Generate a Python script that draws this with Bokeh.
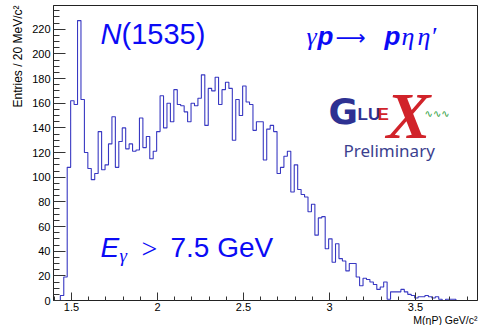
import numpy as np
from bokeh.plotting import figure
from bokeh.models import Range1d, FixedTicker, Label, Title
from bokeh.embed import file_html
from bokeh.resources import INLINE

# ---- data -------------------------------------------------------------
bin_start = 1.435      # GeV, lower edge of first bin
bin_width = 0.02       # GeV (20 MeV)
counts = [
    4, 19, 108, 162, 159, 227, 163, 120, 107, 98,
    103, 137, 106, 110, 127, 149, 108, 129, 140, 123,
    127, 121, 122, 148, 124, 133, 115, 121, 137, 166,
    140, 160, 145, 171, 159, 158, 153, 145, 160, 158,
    164, 183, 142, 172, 170, 181, 159, 171, 177, 172,
    130, 163, 150, 174, 161, 159, 138, 145, 145, 114,
    139, 142, 137, 103, 108, 117, 121, 88, 110, 90,
    86, 84, 72, 78, 53, 67, 68, 42, 50, 31,
    46, 34, 32, 24, 30, 30, 19, 12, 18, 17,
    15, 13, 9, 11, 15, 1, 7, 7, 7, 9,
    7, 5, 4, 2, 3, 3, 4, 3, 2, 3,
    1, 0, 1, 1, 1,
]
x_major = [1.5, 2.0, 2.5, 3.0, 3.5]
x_major_labels = ["1.5", "2", "2.5", "3", "3.5"]
x_minor = [round(1.4 + 0.1 * i, 2) for i in range(25)]
y_major = list(range(0, 221, 20))
y_minor = list(range(0, 240, 5))
x_title = "M(\u03b7P) GeV/c\u00b2"
y_title = "Entries / 20 MeV/c\u00b2"

# ---- figure -------------------------------------------------------------
FL, FB = 53, 300   # frame left / bottom in picture pixels
p = figure(width=478, height=325,
           x_range=Range1d(1.3953, 3.8605), y_range=Range1d(0, 239.25),
           output_backend="svg", toolbar_location=None,
           min_border_left=FL, min_border_right=1,
           min_border_top=5, min_border_bottom=25)
p.grid.visible = False
p.outline_line_color = "#222222"
p.outline_line_width = 1
p.background_fill_color = "white"
p.border_fill_color = "white"

edges = bin_start + bin_width * np.arange(len(counts) + 1)
xs = np.concatenate([[edges[0]], edges])
ys = np.concatenate([[0], counts, [0]])
p.step(x=xs, y=ys, mode="after", line_color="#3838c2", line_width=1.1)

FONT = "Liberation Sans"
for ax in (p.xaxis[0], p.yaxis[0]):
    ax.axis_line_color = "#222222"
    ax.major_tick_line_color = "#333333"
    ax.minor_tick_line_color = "#333333"
    ax.major_tick_out = 0
    ax.minor_tick_out = 0
    ax.major_label_text_font = FONT
    ax.major_label_text_font_size = "11px"
    ax.major_label_text_color = "black"
    ax.major_label_standoff = 3

p.xaxis.ticker = FixedTicker(ticks=x_major, minor_ticks=x_minor)
p.xaxis.major_label_overrides = {v: s for v, s in zip(x_major, x_major_labels)}
p.xaxis.major_tick_in = 8
p.xaxis.minor_tick_in = 4
p.xaxis.major_label_standoff = 2

p.yaxis.ticker = FixedTicker(ticks=y_major, minor_ticks=y_minor)
p.yaxis.major_tick_in = 12
p.yaxis.minor_tick_in = 6

# axis titles, right-aligned at the axis ends (ROOT style)
p.add_layout(Title(text=y_title, align="right", text_font=FONT,
                   text_font_size="12px", text_font_style="normal",
                   text_color="black", standoff=10), "left")
p.add_layout(Title(text=x_title, align="right", text_font=FONT,
                   text_font_size="10.5px", text_font_style="normal",
                   text_color="black", standoff=-4), "below")

# half of (ascent + descent) minus descent, per font, to place baselines
MID = {"Liberation Sans": 0.3465, "Liberation Serif": 0.3375,
       "DejaVu Sans": 0.346, "Noto Sans": 0.388}


def lab(text, x, y, size, color="black", font=FONT, style="normal"):
    # x, y: picture pixel position of the text start / baseline
    ymid = y - MID[font] * size
    p.add_layout(Label(x=x - FL, y=FB - ymid, x_units="screen", y_units="screen",
                       text=text, text_font_size=f"{size}px", text_color=color,
                       text_font=font, text_font_style=style, text_align="left",
                       text_baseline="middle"))


BLUE = "#0b0bf5"
# N(1535)
lab("N", 100, 44, 29, BLUE, style="italic")
lab("(1535)", 121, 44, 29, BLUE)
# gamma p -> p eta eta'
lab("\u03b3", 306, 45, 26, BLUE, font="Liberation Serif", style="italic")
lab("p", 317, 45, 26, BLUE, style="bold italic")
lab("\u27f6", 335, 45, 21, BLUE, font="DejaVu Sans")
lab("p", 384, 45, 26, BLUE, style="bold italic")
lab("\u03b7", 401, 45, 26, BLUE, font="Liberation Serif", style="italic")
lab("\u03b7\u2032", 417, 45, 26, BLUE, font="Liberation Serif", style="italic")
# E_gamma > 7.5 GeV
lab("E", 100, 257, 28, BLUE, style="italic")
lab("\u03b3", 119, 261, 19, BLUE, font="Liberation Serif", style="italic")
lab(">", 141, 257, 28, BLUE, font="Liberation Serif")
lab("7.5 GeV", 170, 257, 28, BLUE)

# GlueX logo (text approximation)
NAVY = "#2e3192"
RED = "#d1232a"
lab("G", 328, 123, 36, NAVY, font="DejaVu Sans", style="bold")
lab("LU", 357, 120, 17, NAVY, style="bold")
lab("E", 377, 120, 17, RED, style="bold")
lab("X", 386, 137, 66, RED, font="Liberation Serif", style="bold italic")
lab("\u223f\u223f\u223f", 424, 116, 10, "#2a9d3a", font="DejaVu Sans")
lab("Preliminary", 343, 157, 17, "#3c3f8f", font="Noto Sans")

open("out.html", "w").write(file_html(p, INLINE))
